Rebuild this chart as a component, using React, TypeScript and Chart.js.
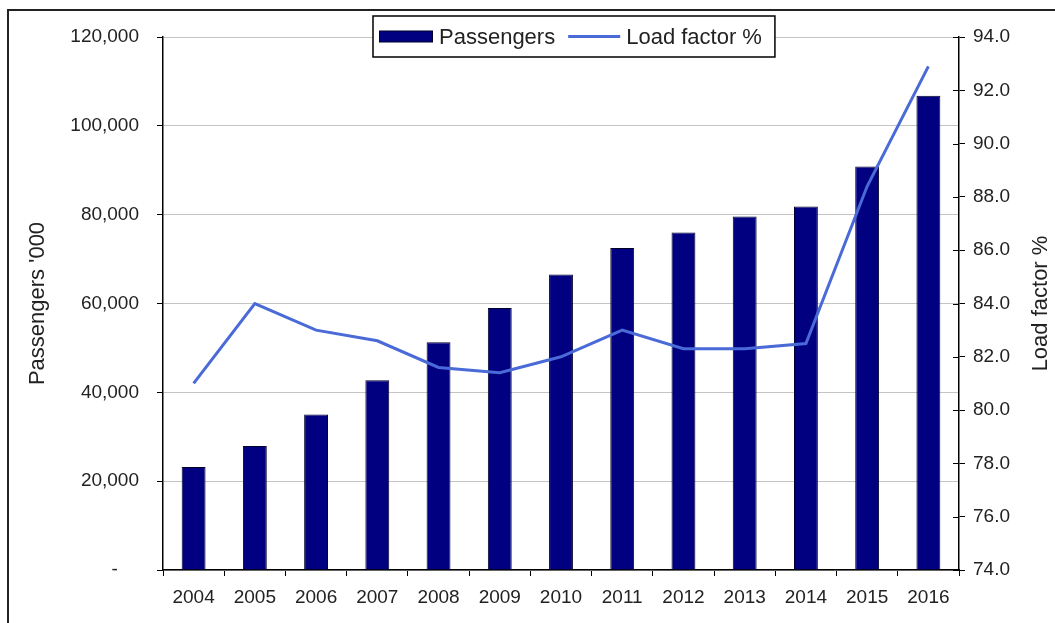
import React, { useEffect, useRef } from 'react';
import { Chart, registerables } from 'chart.js';

Chart.register(...registerables);

const years = ['2004', '2005', '2006', '2007', '2008', '2009', '2010', '2011', '2012', '2013', '2014', '2015', '2016'];
const passengers = [23200, 27900, 35000, 42700, 51250, 59000, 66550, 72500, 76000, 79600, 81850, 90850, 106750];
const loadFactor = [81.0, 84.0, 83.0, 82.6, 81.6, 81.4, 82.0, 83.0, 82.3, 82.3, 82.5, 88.4, 92.9];
const leftTickLabels = ['-', '20,000', '40,000', '60,000', '80,000', '100,000', '120,000'];
const rightTickLabels = ['74.0', '76.0', '78.0', '80.0', '82.0', '84.0', '86.0', '88.0', '90.0', '92.0', '94.0'];
const leftTitle = "Passengers '000";
const rightTitle = 'Load factor %';

const FONT = '"Liberation Sans", Arial, sans-serif';
const TEXT = '#222222';

const overlayPlugin = {
  id: 'overlay',
  afterDraw(chart: any) {
    const ctx = chart.ctx as CanvasRenderingContext2D;
    const area = chart.chartArea;
    ctx.save();
    // inward ticks on right axis
    const y1 = chart.scales.y1;
    ctx.strokeStyle = '#000';
    ctx.lineWidth = 1;
    y1.ticks.forEach((t: any) => {
      const py = Math.round(y1.getPixelForValue(t.value)) + 0.5;
      ctx.beginPath();
      ctx.moveTo(area.right - 6, py);
      ctx.lineTo(area.right, py);
      ctx.stroke();
    });
    // right axis title, rotated bottom-to-top
    ctx.fillStyle = TEXT;
    ctx.font = `22px ${FONT}`;
    ctx.translate(1041, (area.top + area.bottom) / 2);
    ctx.rotate(-Math.PI / 2);
    ctx.textAlign = 'center';
    ctx.textBaseline = 'middle';
    ctx.fillText(rightTitle, 0, 0);
    ctx.restore();

    // legend box
    ctx.save();
    const ds0 = chart.data.datasets[0];
    const ds1 = chart.data.datasets[1];
    ctx.font = `22px ${FONT}`;
    const w0 = ctx.measureText(ds0.label).width;
    const w1 = ctx.measureText(ds1.label).width;
    const left = 373;
    const top = 16;
    const h = 41;
    const cy = top + h / 2;
    const width = 6 + 54 + 6 + w0 + 13 + 52 + 6 + w1 + 13;
    ctx.fillStyle = '#fff';
    ctx.fillRect(left, top, width, h);
    ctx.strokeStyle = '#000';
    ctx.lineWidth = 1.5;
    ctx.strokeRect(left, top, width, h);
    let x = left + 6;
    ctx.fillStyle = ds0.backgroundColor;
    ctx.fillRect(x, cy - 5.5, 54, 11);
    ctx.strokeStyle = ds0.borderColor;
    ctx.lineWidth = 1;
    ctx.strokeRect(x + 0.5, cy - 5.5, 53, 11);
    x += 54 + 6;
    ctx.fillStyle = TEXT;
    ctx.textBaseline = 'middle';
    ctx.textAlign = 'left';
    ctx.fillText(ds0.label, x, cy + 1);
    x += w0 + 13;
    ctx.strokeStyle = ds1.borderColor;
    ctx.lineWidth = 3;
    ctx.beginPath();
    ctx.moveTo(x, cy);
    ctx.lineTo(x + 52, cy);
    ctx.stroke();
    x += 52 + 6;
    ctx.fillText(ds1.label, x, cy + 1);
    ctx.restore();
  },
};

export default function App() {
  const ref = useRef<HTMLCanvasElement>(null);

  useEffect(() => {
    if (!ref.current) return;
    const chart = new Chart(ref.current, {
      type: 'bar',
      data: {
        labels: years,
        datasets: [
          {
            type: 'bar',
            label: 'Passengers',
            data: passengers,
            backgroundColor: '#000080',
            borderColor: '#00002a',
            borderWidth: 1,
            barPercentage: 0.39,
            categoryPercentage: 1,
            yAxisID: 'y',
            order: 2,
          },
          {
            type: 'line',
            label: 'Load factor %',
            data: loadFactor,
            borderColor: '#4a6ad8',
            backgroundColor: '#4a6ad8',
            borderWidth: 3,
            pointRadius: 0,
            tension: 0,
            yAxisID: 'y1',
            order: 1,
          } as any,
        ],
      },
      options: {
        responsive: false,
        animation: false,
        layout: { padding: { left: 8, top: 37, right: 0, bottom: 0 } },
        plugins: { legend: { display: false }, tooltip: { enabled: false } },
        scales: {
          x: {
            offset: true,
            grid: {
              display: true,
              drawOnChartArea: false,
              drawTicks: true,
              tickLength: 6,
              tickColor: '#000',
              offset: true,
            },
            border: { display: true, color: '#000', width: 1.5 },
            ticks: { color: TEXT, font: { family: FONT, size: 19 }, padding: 10, maxRotation: 0 },
            afterFit: (s: any) => {
              s.height = 53;
            },
          },
          y: {
            position: 'left',
            min: 0,
            max: 120000,
            ticks: {
              stepSize: 20000,
              color: TEXT,
              font: { family: FONT, size: 19 },
              padding: 18,
              callback: (_v: any, i: number) => (i === 0 ? leftTickLabels[i] + '\u2007\u2007' : leftTickLabels[i]),
            },
            grid: { color: '#c4c4c4', lineWidth: 1, tickColor: '#000', tickLength: 6 },
            border: { display: true, color: '#000', width: 1.5 },
            title: {
              display: true,
              text: leftTitle,
              color: TEXT,
              font: { family: FONT, size: 22, weight: 'normal' },
              padding: { top: 17, bottom: 0 },
            },
            afterFit: (s: any) => {
              s.width = 155;
            },
          },
          y1: {
            position: 'right',
            min: 74,
            max: 94,
            ticks: {
              stepSize: 2,
              color: TEXT,
              font: { family: FONT, size: 19 },
              padding: 8,
              callback: (_v: any, i: number) => rightTickLabels[i],
            },
            grid: { drawOnChartArea: false, tickColor: '#000', tickLength: 6 },
            border: { display: true, color: '#000', width: 1.5 },
            afterFit: (s: any) => {
              s.width = 96;
            },
          },
        },
      },
      plugins: [overlayPlugin],
    });
    return () => chart.destroy();
  }, []);

  return (
    <div style={{ position: 'fixed', left: 0, top: 0, width: 1055, height: 623, overflow: 'hidden', background: '#fff' }}>
      <div
        style={{
          position: 'absolute',
          left: 7,
          top: 9,
          width: 1200,
          height: 800,
          borderLeft: '2px solid #222',
          borderTop: '2px solid #222',
        }}
      />
      <canvas ref={ref} width={1055} height={623} style={{ position: 'absolute', left: 0, top: 0, width: 1055, height: 623 }} />
    </div>
  );
}
